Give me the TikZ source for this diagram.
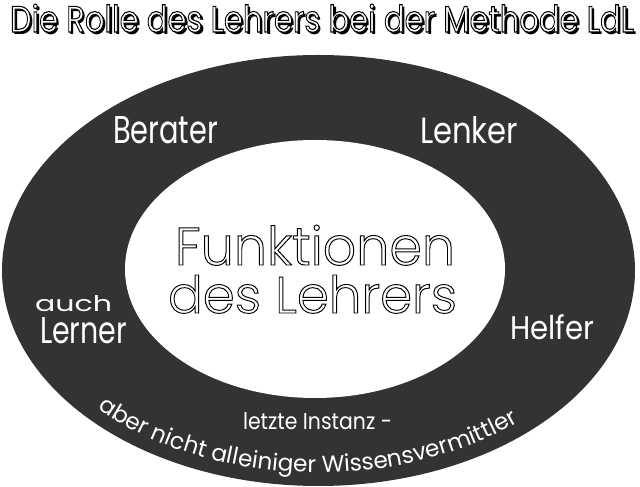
\documentclass[tikz,border=0pt]{standalone}
\usepackage{fontspec}
\setmainfont{Poppins}
\newfontfamily\lightfont{Poppins}[UprightFont={* Light}]
\usetikzlibrary{decorations.text}
\definecolor{ringgray}{HTML}{333333}
\tikzset{
  lbl/.style={anchor=base west, inner sep=0pt, outer sep=0pt, text=white},
  outl/.style={anchor=base west, inner sep=0pt, outer sep=0pt},
}
\newcommand\fitbox[3]{\resizebox{#1pt}{#2pt}{#3}}
\newcommand\outlinetext[2]{{\color{white}\special{pdf:code 0 G #1 w 2 Tr}#2\special{pdf:code 0 Tr}}}
\begin{document}
\begin{tikzpicture}[x=1pt,y=1pt]
\useasboundingbox (0,0) rectangle (640,487);
% rings
\fill[ringgray] (318.5,216.5) ellipse [x radius=316.5, y radius=215.5];
\fill[white] (315,218) ellipse [x radius=190, y radius=129];
% title
\node[outl] (titleshadow) at (12.5,452.5) {\fitbox{624}{28}{\fontsize{38}{40}\selectfont Die Rolle des Lehrers bei der Methode LdL}};
\node[outl] (title) at (10,455) {\fitbox{624}{28}{\fontsize{38}{40}\selectfont\outlinetext{1.1}{Die Rolle des Lehrers bei der Methode LdL}}};
% ring labels
\node[lbl] (berater) at (113,343) {\fitbox{105}{27}{\fontsize{36}{38}\selectfont Berater}};
\node[lbl] (lenker) at (420,343) {\fitbox{98}{27}{\fontsize{36}{38}\selectfont Lenker}};
\node[lbl] (auch) at (35,175) {\fitbox{77}{16}{\fontsize{30}{32}\selectfont auch}};
\node[lbl] (lerner) at (40,143) {\fitbox{87}{26}{\fontsize{36}{38}\selectfont Lerner}};
\node[lbl] (helfer) at (510,147) {\fitbox{84}{25}{\fontsize{36}{38}\selectfont Helfer}};
\node[lbl] (instanz) at (243,57) {\fitbox{149}{17}{\fontsize{24}{26}\selectfont letzte Instanz -}};
% centre
\node[outl] (funk) at (175,222) {\fitbox{280}{40}{\lightfont\fontsize{54}{56}\selectfont\outlinetext{1}{Funktionen}}};
\node[outl] (lehrers) at (168,174) {\fitbox{289}{38}{\lightfont\fontsize{54}{56}\selectfont\outlinetext{1}{des Lehrers}}};
% curved text
\path[decorate, decoration={text along path, text color=white, text align=center,
  text={|\fontsize{23.2}{25}\selectfont|aber nicht alleiniger Wissensvermittler}}]
  (318.5,216.5) ++(-148:302 and 202) arc [start angle=-148, end angle=-38, x radius=302, y radius=202];
\end{tikzpicture}
\end{document}
